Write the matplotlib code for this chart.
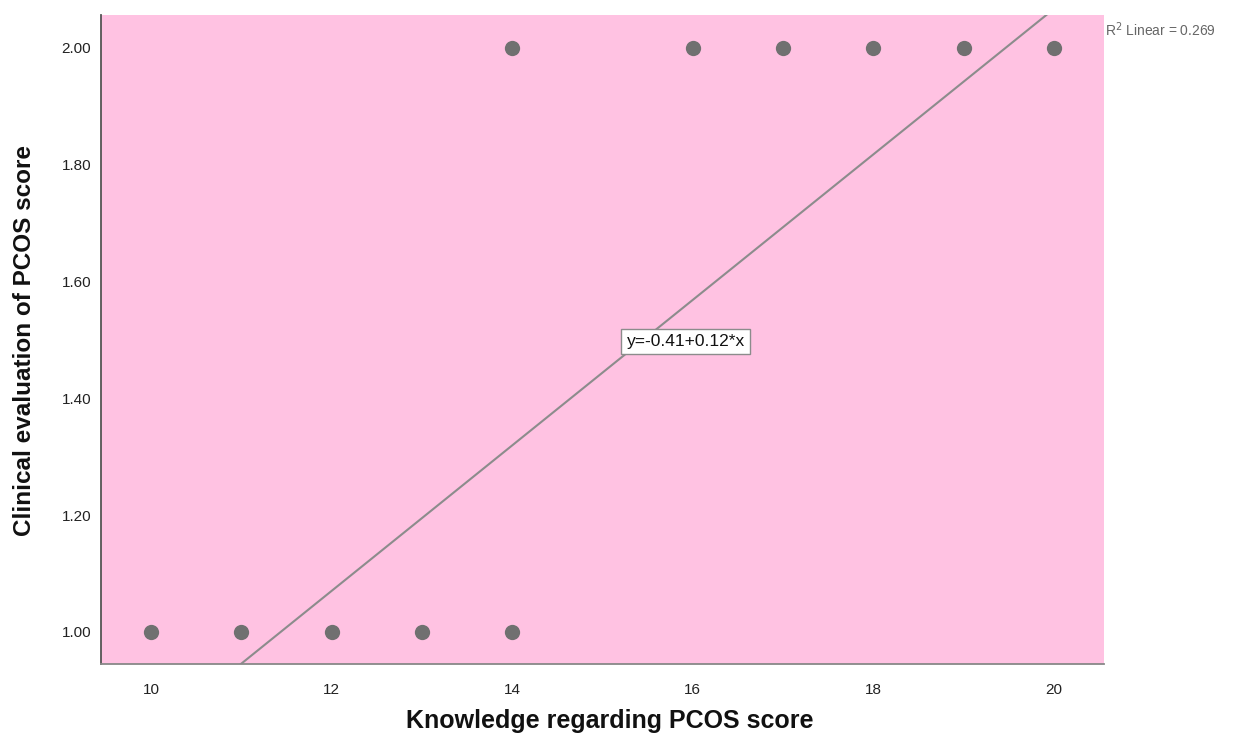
import matplotlib
matplotlib.use("Agg")
import matplotlib.pyplot as plt
import numpy as np

plt.rcParams['font.family'] = ['Liberation Sans', 'DejaVu Sans']

knowledge = [10, 11, 12, 13, 14, 14, 16, 17, 18, 19, 20]
clinical = [1, 1, 1, 1, 1, 2, 2, 2, 2, 2, 2]
fit_intercept = -0.425
fit_slope = 0.1246
equation_label = "y=-0.41+0.12*x"
r2_label = "R$^2$ Linear = 0.269"
x_ticks = [10, 12, 14, 16, 18, 20]
y_ticks = [1.00, 1.20, 1.40, 1.60, 1.80, 2.00]

fig = plt.figure(figsize=(12.39, 7.38), dpi=100)
ax = fig.add_axes([101/1239, 1 - 664/738, (1104-101)/1239, (664-15)/738])
ax.set_facecolor('#FFC2E2')

xmin, xmax = 9.446, 20.554
ymin, ymax = 0.945, 2.0565
ax.set_xlim(xmin, xmax)
ax.set_ylim(ymin, ymax)

xl = np.array([xmin, xmax])
ax.plot(xl, fit_intercept + fit_slope * xl, color='#8C8C8C', lw=1.5, zorder=2)
ax.plot(knowledge, clinical, 'o', color='#707070', markersize=11, markeredgewidth=0, zorder=3)

ax.text(15.92, 1.4975, equation_label, ha='center', va='center', fontsize=12.5, color='#111111',
        bbox=dict(boxstyle='square,pad=0.3', facecolor='white', edgecolor='#8C8C8C', lw=1), zorder=4)

ax.set_xticks(x_ticks)
ax.set_xticklabels([str(t) for t in x_ticks])
ax.set_yticks(y_ticks)
ax.set_yticklabels([f"{t:.2f}" for t in y_ticks])
ax.tick_params(length=0, labelsize=11, colors='#222222')
ax.tick_params(axis='y', pad=7)
ax.tick_params(axis='x', pad=14)

for s in ['top', 'right']:
    ax.spines[s].set_visible(False)
ax.spines['left'].set_color('#555555')
ax.spines['bottom'].set_color('#888888')
ax.spines['left'].set_linewidth(1.3)
ax.spines['bottom'].set_linewidth(1.3)

fig.text(610/1239, 1 - 721/738, "Knowledge regarding PCOS score", ha='center', va='center',
         fontsize=18, fontweight='bold', color='#111111')
fig.text(25/1239, 1 - 340/738, "Clinical evaluation of PCOS score", ha='center', va='center',
         rotation=90, fontsize=17.5, fontweight='bold', color='#111111')
fig.text(1105/1239, 1 - 30/738, r2_label, ha='left', va='center', fontsize=10, color='#666666')

fig.savefig('out.png', dpi=100)
